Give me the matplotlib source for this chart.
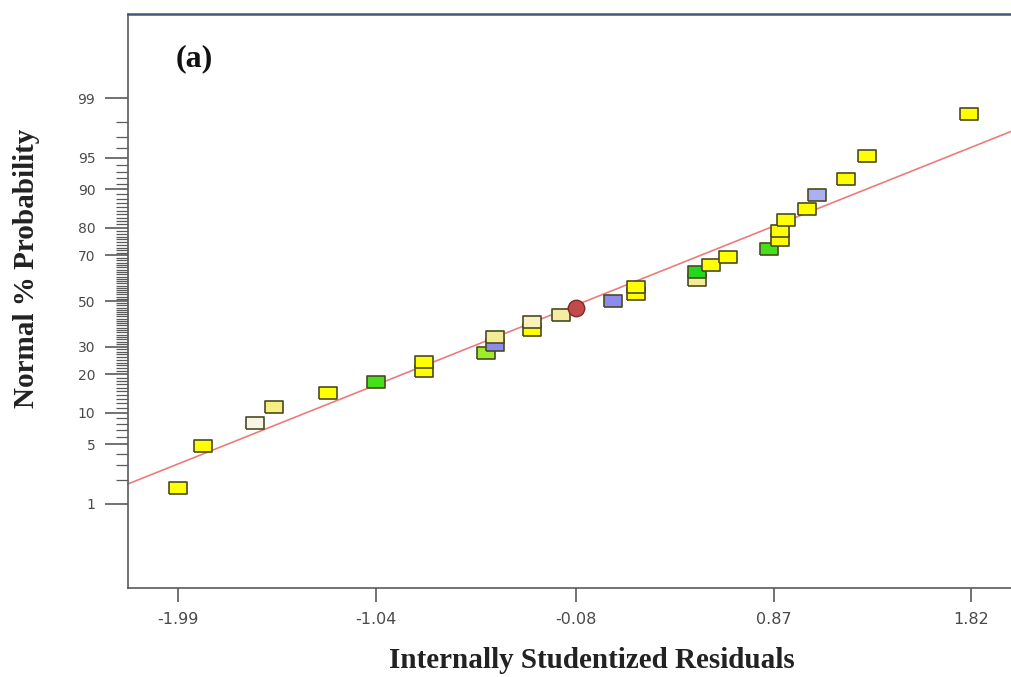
import math
import numpy as np
import matplotlib
matplotlib.use("Agg")
import matplotlib.pyplot as plt
from matplotlib.ticker import FixedLocator, FixedFormatter

# ---------------- data ----------------
residuals = [-1.99, -1.87, -1.62, -1.53, -1.27, -1.04, -0.81, -0.81, -0.51, -0.47,
             -0.47, -0.29, -0.29, -0.15, -0.08, 0.10, 0.21, 0.21, 0.50, 0.50,
             0.57, 0.65, 0.85, 0.90, 0.90, 0.93, 1.03, 1.08, 1.22, 1.32, 1.81]
probability = [1.61, 4.84, 8.06, 11.29, 14.52, 17.74, 20.97, 24.19, 27.42, 30.65,
               33.87, 37.10, 40.32, 43.55, 46.77, 50.00, 53.23, 56.45, 59.68, 62.90,
               66.13, 69.35, 72.58, 75.81, 79.03, 82.26, 85.48, 88.71, 91.94, 95.16, 98.39]
point_colors = ["#ffff00", "#ffff00", "#f8f5e4", "#f6ee80", "#ffff00", "#44e01a",
                "#ffff00", "#ffff00", "#9cec2a", "#8c8cf0", "#f3ec96", "#ffff00",
                "#f7f1bc", "#f6eca4", "#c24a4a", "#8c8cf0", "#ffff00", "#ffff00",
                "#f3ec96", "#22d81a", "#ffff00", "#ffff00", "#44e01a", "#ffff00",
                "#ffff00", "#ffff00", "#ffff00", "#aab0f2", "#ffff00", "#ffff00", "#ffff00"]
circle_index = 14  # the design point drawn as a circle

fit_mean = -0.03
fit_sd = 1.05
fit_x = [-2.232, 2.016]

x_ticks = [-1.99, -1.04, -0.08, 0.87, 1.82]
x_tick_labels = ["-1.99", "-1.04", "-0.08", "0.87", "1.82"]
y_ticks = [1, 5, 10, 20, 30, 50, 70, 80, 90, 95, 99]
y_tick_labels = ["1", "5", "10", "20", "30", "50", "70", "80", "90", "95", "99"]
y_minor = [v for v in range(2, 99) if v not in y_ticks]

# ---------------- probit scale helpers ----------------
_a = [-3.969683028665376e+01, 2.209460984245205e+02, -2.759285104469687e+02,
      1.383577518672690e+02, -3.066479806614716e+01, 2.506628277459239e+00]
_b = [-5.447609879822406e+01, 1.615858368580409e+02, -1.556989798598866e+02,
      6.680131188771972e+01, -1.328068155288572e+01]
_c = [-7.784894002430293e-03, -3.223964580411365e-01, -2.400758277161838e+00,
      -2.549671348494325e+00, 4.374664141464968e+00, 2.938163982698783e+00]
_d = [7.784695709041462e-03, 3.224671290700398e-01, 2.445134137142996e+00,
      3.754408661907416e+00]


def _ppf(p):
    p = np.clip(np.asarray(p, dtype=float), 1e-12, 1 - 1e-12)
    out = np.empty_like(p)
    plow = 0.02425
    lo = p < plow
    hi = p > 1 - plow
    mid = ~(lo | hi)
    if np.any(lo):
        q = np.sqrt(-2 * np.log(p[lo]))
        out[lo] = (((((_c[0]*q+_c[1])*q+_c[2])*q+_c[3])*q+_c[4])*q+_c[5]) / \
                  ((((_d[0]*q+_d[1])*q+_d[2])*q+_d[3])*q+1)
    if np.any(hi):
        q = np.sqrt(-2 * np.log(1 - p[hi]))
        out[hi] = -(((((_c[0]*q+_c[1])*q+_c[2])*q+_c[3])*q+_c[4])*q+_c[5]) / \
                   ((((_d[0]*q+_d[1])*q+_d[2])*q+_d[3])*q+1)
    if np.any(mid):
        q = p[mid] - 0.5
        r = q * q
        out[mid] = (((((_a[0]*r+_a[1])*r+_a[2])*r+_a[3])*r+_a[4])*r+_a[5])*q / \
                   (((((_b[0]*r+_b[1])*r+_b[2])*r+_b[3])*r+_b[4])*r+1)
    return out


_erf = np.vectorize(math.erf, otypes=[float])


def pct_to_z(pct):
    return _ppf(np.asarray(pct, dtype=float) / 100.0)


def z_to_pct(z):
    z = np.asarray(z, dtype=float)
    return 50.0 * (1.0 + _erf(z / math.sqrt(2.0)))


# ---------------- figure ----------------
W, H = 1012, 677
fig = plt.figure(figsize=(W / 100, H / 100), dpi=100)
ax = fig.add_axes([128 / W, 1 - 588 / H, 1 - 128 / W, (588 - 14) / H])
ax.set_yscale("function", functions=(pct_to_z, z_to_pct))
ax.set_xlim(-2.232, 2.016)
ax.set_ylim(0.05, 99.95)

# fitted normal line
fit_pct = z_to_pct((np.array(fit_x) - fit_mean) / fit_sd)
ax.plot(fit_x, fit_pct, color="#ec7c7c", lw=1.2, zorder=2, clip_on=False)

# points
rect = [(-1, -0.62), (1, -0.62), (1, 0.62), (-1, 0.62), (-1, -0.62)]
for i, (xv, yv, col) in enumerate(zip(residuals, probability, point_colors)):
    if i == circle_index:
        ax.scatter([xv], [yv], s=140, marker="o", facecolor=col,
                   edgecolor="#7a2a2a", linewidth=1.0, zorder=4)
    else:
        ax.scatter([xv], [yv], s=185, marker=rect, facecolor=col,
                   edgecolor="#4a4a22", linewidth=1.2, zorder=3)

# spines
for side in ("left", "bottom"):
    ax.spines[side].set_color("#5a5a5a")
    ax.spines[side].set_linewidth(1.2)
ax.spines["right"].set_visible(False)
ax.spines["top"].set_color("#3f5878")
ax.spines["top"].set_linewidth(1.8)

# ticks
ax.xaxis.set_major_locator(FixedLocator(x_ticks))
ax.xaxis.set_major_formatter(FixedFormatter(x_tick_labels))
ax.xaxis.set_minor_locator(FixedLocator([]))
ax.yaxis.set_major_locator(FixedLocator(y_ticks))
ax.yaxis.set_major_formatter(FixedFormatter(y_tick_labels))
ax.yaxis.set_minor_locator(FixedLocator(y_minor))
ax.yaxis.set_minor_formatter(FixedFormatter([""] * len(y_minor)))

ax.tick_params(axis="x", which="major", direction="out", length=10, width=1.2,
               color="#5a5a5a", pad=7, labelsize=11.5, labelcolor="#4a4a4a")
ax.tick_params(axis="y", which="major", direction="out", length=16.5, width=1.2,
               color="#5a5a5a", pad=7, labelsize=10, labelcolor="#4a4a4a")
ax.tick_params(axis="y", which="minor", direction="out", length=9, width=0.9,
               color="#5a5a5a")
for lab in ax.get_xticklabels() + ax.get_yticklabels():
    lab.set_family("DejaVu Sans")

# labels
fig.text(27 / W, 1 - 268 / H, "Normal % Probability", rotation=90,
         ha="center", va="center", family="Liberation Serif", weight="bold",
         fontsize=21, color="#222222")
fig.text(592 / W, 1 - 661 / H, "Internally Studentized Residuals",
         ha="center", va="center", family="Liberation Serif", weight="bold",
         fontsize=21, color="#222222")
fig.text(194 / W, 1 - 59 / H, "(a)", ha="center", va="center",
         family="Liberation Serif", weight="bold", fontsize=23, color="#111111")

fig.savefig("out.png", dpi=100)
